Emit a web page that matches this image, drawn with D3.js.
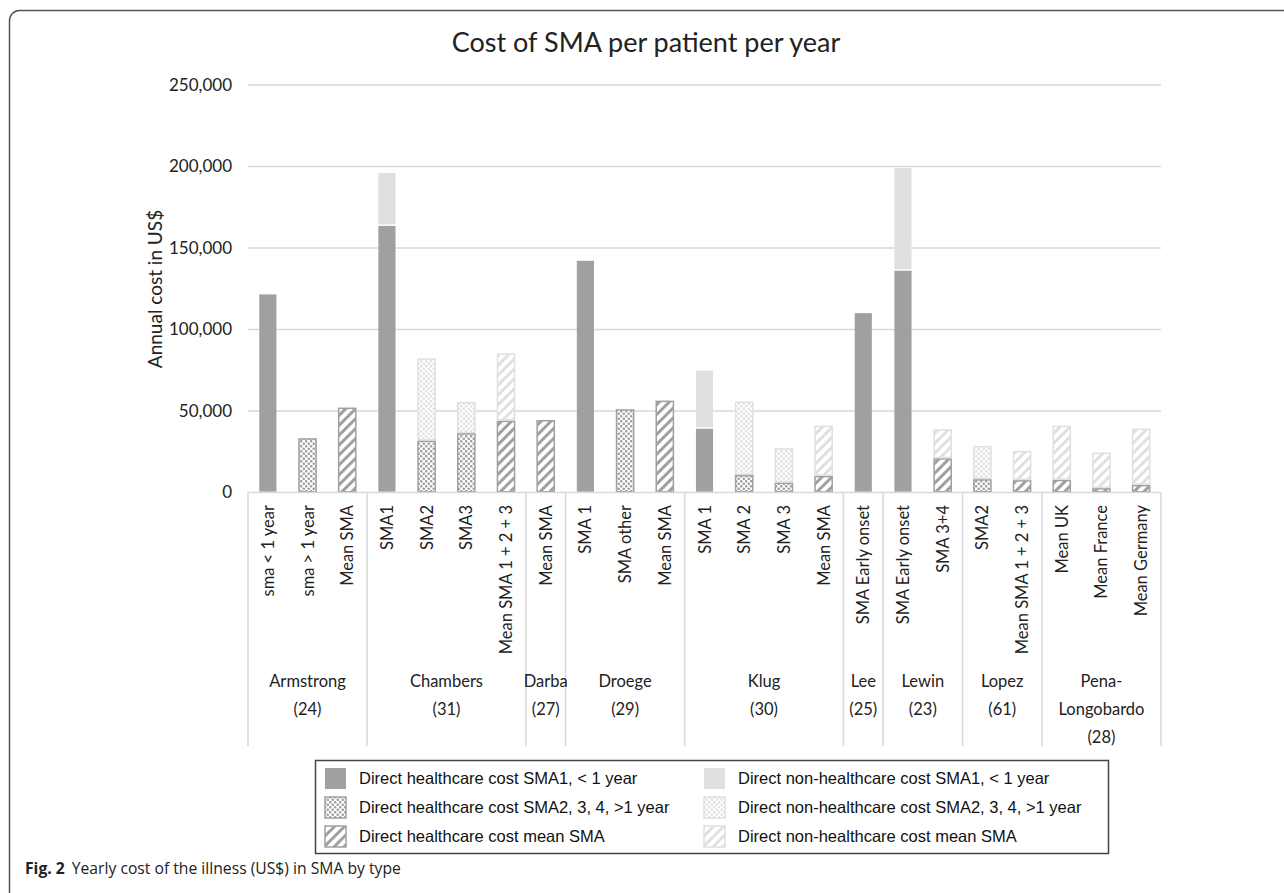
<!DOCTYPE html>
<html>
<head>
<meta charset="utf-8">
<script src="https://cdn.jsdelivr.net/npm/d3@7"></script>
<style>
  body { margin: 0; background: #fff; }
  svg { display: block; }
</style>
</head>
<body>
<svg id="canvas" width="1284" height="893"></svg>
<script>
// categories along the x axis (23 bars)
var categories = [
    "sma < 1 year", "sma > 1 year", "Mean SMA",
    "SMA1", "SMA2", "SMA3", "Mean SMA 1 + 2 + 3",
    "Mean SMA",
    "SMA 1", "SMA other", "Mean SMA",
    "SMA 1", "SMA 2", "SMA 3", "Mean SMA",
    "SMA Early onset",
    "SMA Early onset", "SMA 3+4",
    "SMA2", "Mean SMA 1 + 2 + 3",
    "Mean UK", "Mean France", "Mean Germany"
];
var groupNames = [["Armstrong", "(24)"], ["Chambers", "(31)"], ["Darba", "(27)"], ["Droege", "(29)"],
    ["Klug", "(30)"], ["Lee", "(25)"], ["Lewin", "(23)"], ["Lopez", "(61)"], ["Pena-", "Longobardo", "(28)"]];
var groupSizes = [3, 4, 1, 3, 4, 1, 2, 2, 3];

// series values, US$
var hcSma1 =    [122000, 0, 0, 164000, 0, 0, 0, 0, 142600, 0, 0, 39600, 0, 0, 0, 110500, 136500, 0, 0, 0, 0, 0, 0];
var hcSma234 =  [0, 33300, 0, 0, 31900, 36400, 0, 0, 0, 51100, 0, 0, 10800, 6100, 0, 0, 0, 0, 8200, 0, 0, 0, 0];
var hcMean =    [0, 0, 52100, 0, 0, 0, 44100, 44500, 0, 0, 56400, 0, 0, 0, 10200, 0, 0, 21000, 0, 7600, 7800, 2700, 4700];
var nonSma1 =   [0, 0, 0, 32500, 0, 0, 0, 0, 0, 0, 0, 35600, 0, 0, 0, 0, 63000, 0, 0, 0, 0, 0, 0];
var nonSma234 = [0, 0, 0, 0, 50400, 19200, 0, 0, 0, 0, 0, 0, 45000, 21100, 0, 0, 0, 0, 20400, 0, 0, 0, 0];
var nonMean =   [0, 0, 0, 0, 0, 0, 41300, 0, 0, 0, 0, 0, 0, 0, 30800, 0, 0, 17800, 0, 17900, 33200, 21800, 34500];

var seriesNames = [
    "Direct healthcare cost SMA1, < 1 year",
    "Direct healthcare cost SMA2, 3, 4, >1 year",
    "Direct healthcare cost mean SMA",
    "Direct non-healthcare cost SMA1, < 1 year",
    "Direct non-healthcare cost SMA2, 3, 4, >1 year",
    "Direct non-healthcare cost mean SMA"
];
var yTicks = [0, 50000, 100000, 150000, 200000, 250000];

function drawChart() {
    "use strict";

    var svg = d3.select(document.getElementById('canvas'));
    var dark = '#a0a0a0', light = '#e0e0e0';
    var font = 'Lato, "Open Sans", sans-serif';

    // patterns
    var defs = svg.append('defs');
    [['dotDark', dark], ['dotLight', light]].forEach(function(p) {
        var pat = defs.append('pattern').attr('id', p[0]).attr('patternUnits', 'userSpaceOnUse')
            .attr('width', 5).attr('height', 5);
        pat.append('rect').attr('width', 5).attr('height', 5).attr('fill', '#fff');
        pat.append('circle').attr('cx', 1.25).attr('cy', 1.25).attr('r', 1.3).attr('fill', p[1]);
        pat.append('circle').attr('cx', 3.75).attr('cy', 3.75).attr('r', 1.3).attr('fill', p[1]);
    });
    [['hatchDark', dark], ['hatchLight', light]].forEach(function(p) {
        var pat = defs.append('pattern').attr('id', p[0]).attr('patternUnits', 'userSpaceOnUse')
            .attr('width', 7).attr('height', 7).attr('patternTransform', 'rotate(45)');
        pat.append('rect').attr('width', 7).attr('height', 7).attr('fill', '#fff');
        pat.append('rect').attr('x', 0).attr('width', 3).attr('height', 7).attr('fill', p[1]);
    });
    var fills = [dark, 'url(#dotDark)', 'url(#hatchDark)', light, 'url(#dotLight)', 'url(#hatchLight)'];
    var strokes = ['none', dark, dark, 'none', light, light];

    // outer frame
    svg.append('rect')
        .attr('x', 9.5).attr('y', 10.5).attr('width', 1400).attr('height', 1000)
        .attr('rx', 10).attr('fill', 'none').attr('stroke', '#555').attr('stroke-width', 1.5);

    var left = 248, right = 1161, top = 85, bottom = 492.5;

    var x = d3.scaleBand().domain(d3.range(categories.length)).range([left, right]).padding(0);
    var y = d3.scaleLinear().domain([0, 250000]).range([bottom, top]);
    var barW = x.bandwidth() * 0.47;

    // title
    svg.append('text').attr('x', 646).attr('y', 52).attr('text-anchor', 'middle')
        .style('font-family', font).style('font-size', '27px').attr('fill', '#222')
        .text('Cost of SMA per patient per year');

    // gridlines and y labels
    svg.append('g').selectAll('line').data(yTicks.slice(1)).enter().append('line')
        .attr('x1', left).attr('x2', right)
        .attr('y1', function(d) { return y(d); }).attr('y2', function(d) { return y(d); })
        .attr('stroke', '#d9d9d9').attr('stroke-width', 1.5);

    var yAxis = svg.append('g').attr('transform', 'translate(' + (left - 13) + ',0)')
        .call(d3.axisLeft(y).tickValues(yTicks).tickSize(0).tickFormat(d3.format(',')));
    yAxis.select('.domain').remove();
    yAxis.selectAll('text').style('font-family', font).style('font-size', '17px').attr('fill', '#222');

    svg.append('text')
        .attr('transform', 'translate(162,' + 289 + ') rotate(-90)')
        .attr('text-anchor', 'middle')
        .style('font-family', font).style('font-size', '19px').attr('fill', '#222')
        .text('Annual cost in US$');

    // stacked bars
    var rows = categories.map(function(c, i) {
        return { i: i, s0: hcSma1[i], s1: hcSma234[i], s2: hcMean[i], s3: nonSma1[i], s4: nonSma234[i], s5: nonMean[i] };
    });
    var stack = d3.stack().keys(['s0', 's1', 's2', 's3', 's4', 's5'])(rows);

    var layers = svg.append('g').selectAll('g').data(stack).enter().append('g');
    layers.selectAll('rect')
        .data(function(layer) {
            return layer.filter(function(d) { return d[1] - d[0] > 0; })
                .map(function(d) { return { d: d, k: layer.index }; });
        })
        .enter().append('rect')
        .attr('x', function(e) { return x(e.d.data.i) + (x.bandwidth() - barW) / 2 + 0.75; })
        .attr('width', barW - 1.5)
        .attr('y', function(e) { return y(e.d[1]) + 0.75; })
        .attr('height', function(e) { return Math.max(0, y(e.d[0]) - y(e.d[1]) - 1.5); })
        .attr('fill', function(e) { return fills[e.k]; })
        .attr('stroke', function(e) { return strokes[e.k]; })
        .attr('stroke-width', 1.5);

    // x axis line
    svg.append('line').attr('x1', left).attr('x2', right).attr('y1', bottom).attr('y2', bottom)
        .attr('stroke', '#d9d9d9').attr('stroke-width', 1.5);

    // category labels (rotated)
    svg.append('g').selectAll('text').data(categories).enter().append('text')
        .attr('transform', function(d, i) {
            return 'translate(' + (x(i) + x.bandwidth() / 2 + 6) + ',505) rotate(-90)';
        })
        .attr('text-anchor', 'end')
        .style('font-family', font).style('font-size', '16.5px').attr('fill', '#222')
        .text(function(d) { return d; });

    // group separators and labels
    var start = 0;
    var bounds = [0];
    groupSizes.forEach(function(n) { start += n; bounds.push(start); });

    svg.append('g').selectAll('line').data(bounds).enter().append('line')
        .attr('x1', function(b) { return b < categories.length ? x(b) : right; })
        .attr('x2', function(b) { return b < categories.length ? x(b) : right; })
        .attr('y1', bottom).attr('y2', 746)
        .attr('stroke', '#d9d9d9').attr('stroke-width', 1.5);

    var gl = svg.append('g').selectAll('text').data(groupNames).enter().append('text')
        .attr('text-anchor', 'middle')
        .style('font-family', font).style('font-size', '16.5px').attr('fill', '#222');
    gl.each(function(lines, gi) {
        var a = bounds[gi], b = bounds[gi + 1];
        var cx = (x(a) + (b < categories.length ? x(b) : right)) / 2;
        d3.select(this).selectAll('tspan').data(lines).enter().append('tspan')
            .attr('x', cx).attr('y', function(d, li) { return 687 + li * 28; })
            .text(function(d) { return d; });
    });

    // legend
    var lg = svg.append('g');
    lg.append('rect').attr('x', 315.5).attr('y', 760.5).attr('width', 793).attr('height', 93)
        .attr('fill', '#fff').attr('stroke', '#444').attr('stroke-width', 1.5);
    var items = lg.selectAll('g.item').data(seriesNames).enter().append('g')
        .attr('transform', function(d, i) {
            var col = Math.floor(i / 3), row = i % 3;
            return 'translate(' + (324 + col * 379) + ',' + (767 + row * 29) + ')';
        });
    items.append('rect').attr('x', 1).attr('y', 1).attr('width', 21).attr('height', 21)
        .attr('fill', function(d, i) { return fills[i]; })
        .attr('stroke', function(d, i) { return i % 3 === 0 ? 'none' : strokes[i]; })
        .attr('stroke-width', 1.5);
    items.append('text').attr('x', 35).attr('y', 17)
        .style('font-family', '"Liberation Sans", Arial, sans-serif').style('font-size', '16.5px').attr('fill', '#111')
        .text(function(d) { return d; });

    // caption
    var cap = svg.append('text').attr('x', 25).attr('y', 874)
        .style('font-family', '"Open Sans", sans-serif').style('font-size', '15.7px').attr('fill', '#222');
    cap.append('tspan').style('font-weight', 'bold').text('Fig. 2');
    cap.append('tspan').attr('dx', 7).text('Yearly cost of the illness (US$) in SMA by type');
}

drawChart();
</script>
</body>
</html>
